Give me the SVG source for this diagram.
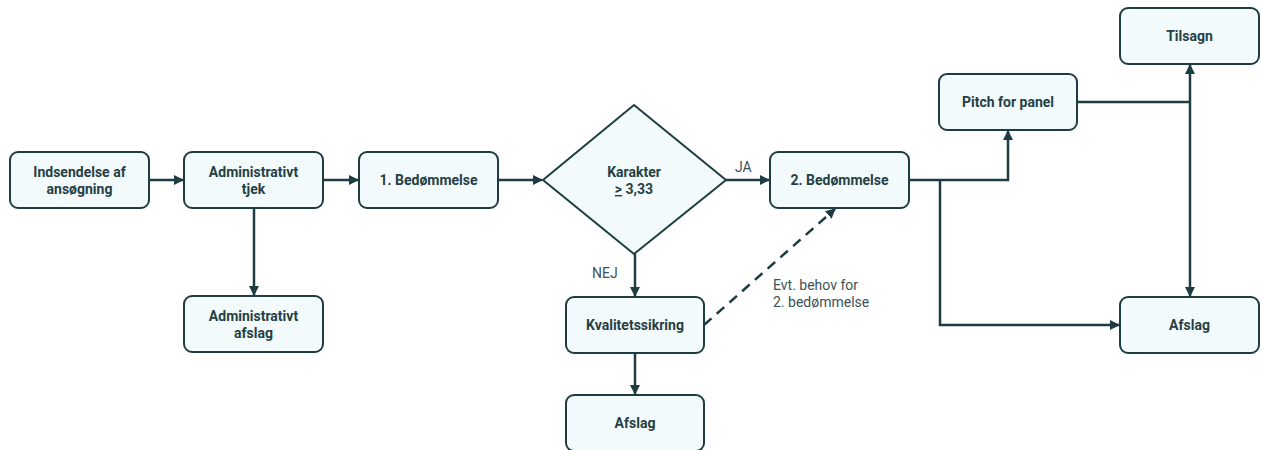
<svg xmlns="http://www.w3.org/2000/svg" width="1262" height="450" viewBox="0 0 1262 450">
<style>
.n{fill:#f2fafc;stroke:#1d3d42;stroke-width:2}
.t{font-family:Roboto,"Liberation Sans",sans-serif;font-weight:bold;font-size:14px;fill:#253f44;text-anchor:middle}
.l{font-family:Roboto,"Liberation Sans",sans-serif;font-size:14px;fill:#3b5358}
.c{fill:none;stroke:#1d3d42;stroke-width:2.5}
</style>
<defs>
<marker id="a" markerWidth="10" markerHeight="10" refX="9" refY="5" orient="auto" markerUnits="userSpaceOnUse">
<path d="M0,0 L10,5 L0,10 Z" fill="#1d3d42"/>
</marker>
<marker id="s" markerWidth="10" markerHeight="10" refX="1" refY="5" orient="auto" markerUnits="userSpaceOnUse">
<path d="M10,0 L0,5 L10,10 Z" fill="#1d3d42"/>
</marker>
</defs>
<g id="connectors">
<path class="c" d="M149,180 H183" marker-end="url(#a)"/>
<path class="c" d="M323,180 H358" marker-end="url(#a)"/>
<path class="c" d="M498,180 H542" marker-end="url(#a)"/>
<path class="c" d="M726,180 H769" marker-end="url(#a)"/>
<path class="c" d="M254,208 V295" marker-end="url(#a)"/>
<path class="c" d="M635,254 V296" marker-end="url(#a)"/>
<path class="c" d="M635,353 V394" marker-end="url(#a)"/>
<path class="c" d="M909,180 H1008 V131" marker-end="url(#a)"/>
<path class="c" d="M940,180 V325 H1119" marker-end="url(#a)"/>
<path class="c" d="M1077,102 H1190"/>
<path class="c" d="M1190,65 V296" marker-start="url(#s)" marker-end="url(#a)"/>
<path class="c" d="M704,325 L835,209" stroke-dasharray="10,7" marker-end="url(#a)"/>
<text class="l" x="735" y="172">JA</text>
<text class="l" x="592" y="278">NEJ</text>
<text class="l" x="773" y="290">Evt. behov for</text>
<text class="l" x="773" y="307">2. bedømmelse</text>
</g>
<g id="n1"><rect class="n" x="10" y="152" width="139" height="56" rx="8"/><text class="t" x="79.5" y="177">Indsendelse af</text><text class="t" x="79.5" y="194">ansøgning</text></g>
<g id="n2"><rect class="n" x="184" y="152" width="139" height="56" rx="8"/><text class="t" x="253.5" y="177">Administrativt</text><text class="t" x="253.5" y="194">tjek</text></g>
<g id="n3"><rect class="n" x="184" y="296" width="139" height="56" rx="8"/><text class="t" x="253.5" y="321">Administrativt</text><text class="t" x="253.5" y="338">afslag</text></g>
<g id="n4"><rect class="n" x="359" y="152" width="139" height="56" rx="8"/><text class="t" x="428.5" y="185">1. Bedømmelse</text></g>
<g id="n5"><polygon class="n" points="634,105 726,180 634,254 543,180"/><text class="t" x="634" y="177">Karakter</text><text class="t" x="634" y="194"><tspan text-decoration="underline">&gt;</tspan> 3,33</text></g>
<g id="n6"><rect class="n" x="770" y="152" width="139" height="56" rx="8"/><text class="t" x="839.5" y="185">2. Bedømmelse</text></g>
<g id="n7"><rect class="n" x="566" y="297" width="138" height="56" rx="8"/><text class="t" x="635" y="330">Kvalitetssikring</text></g>
<g id="n8"><rect class="n" x="566" y="395" width="138" height="56" rx="8"/><text class="t" x="635" y="428">Afslag</text></g>
<g id="n9"><rect class="n" x="939" y="74" width="138" height="56" rx="8"/><text class="t" x="1008" y="107">Pitch for panel</text></g>
<g id="n10"><rect class="n" x="1120" y="8" width="139" height="56" rx="8"/><text class="t" x="1189.5" y="41">Tilsagn</text></g>
<g id="n11"><rect class="n" x="1120" y="297" width="139" height="56" rx="8"/><text class="t" x="1189.5" y="330">Afslag</text></g>
</svg>
